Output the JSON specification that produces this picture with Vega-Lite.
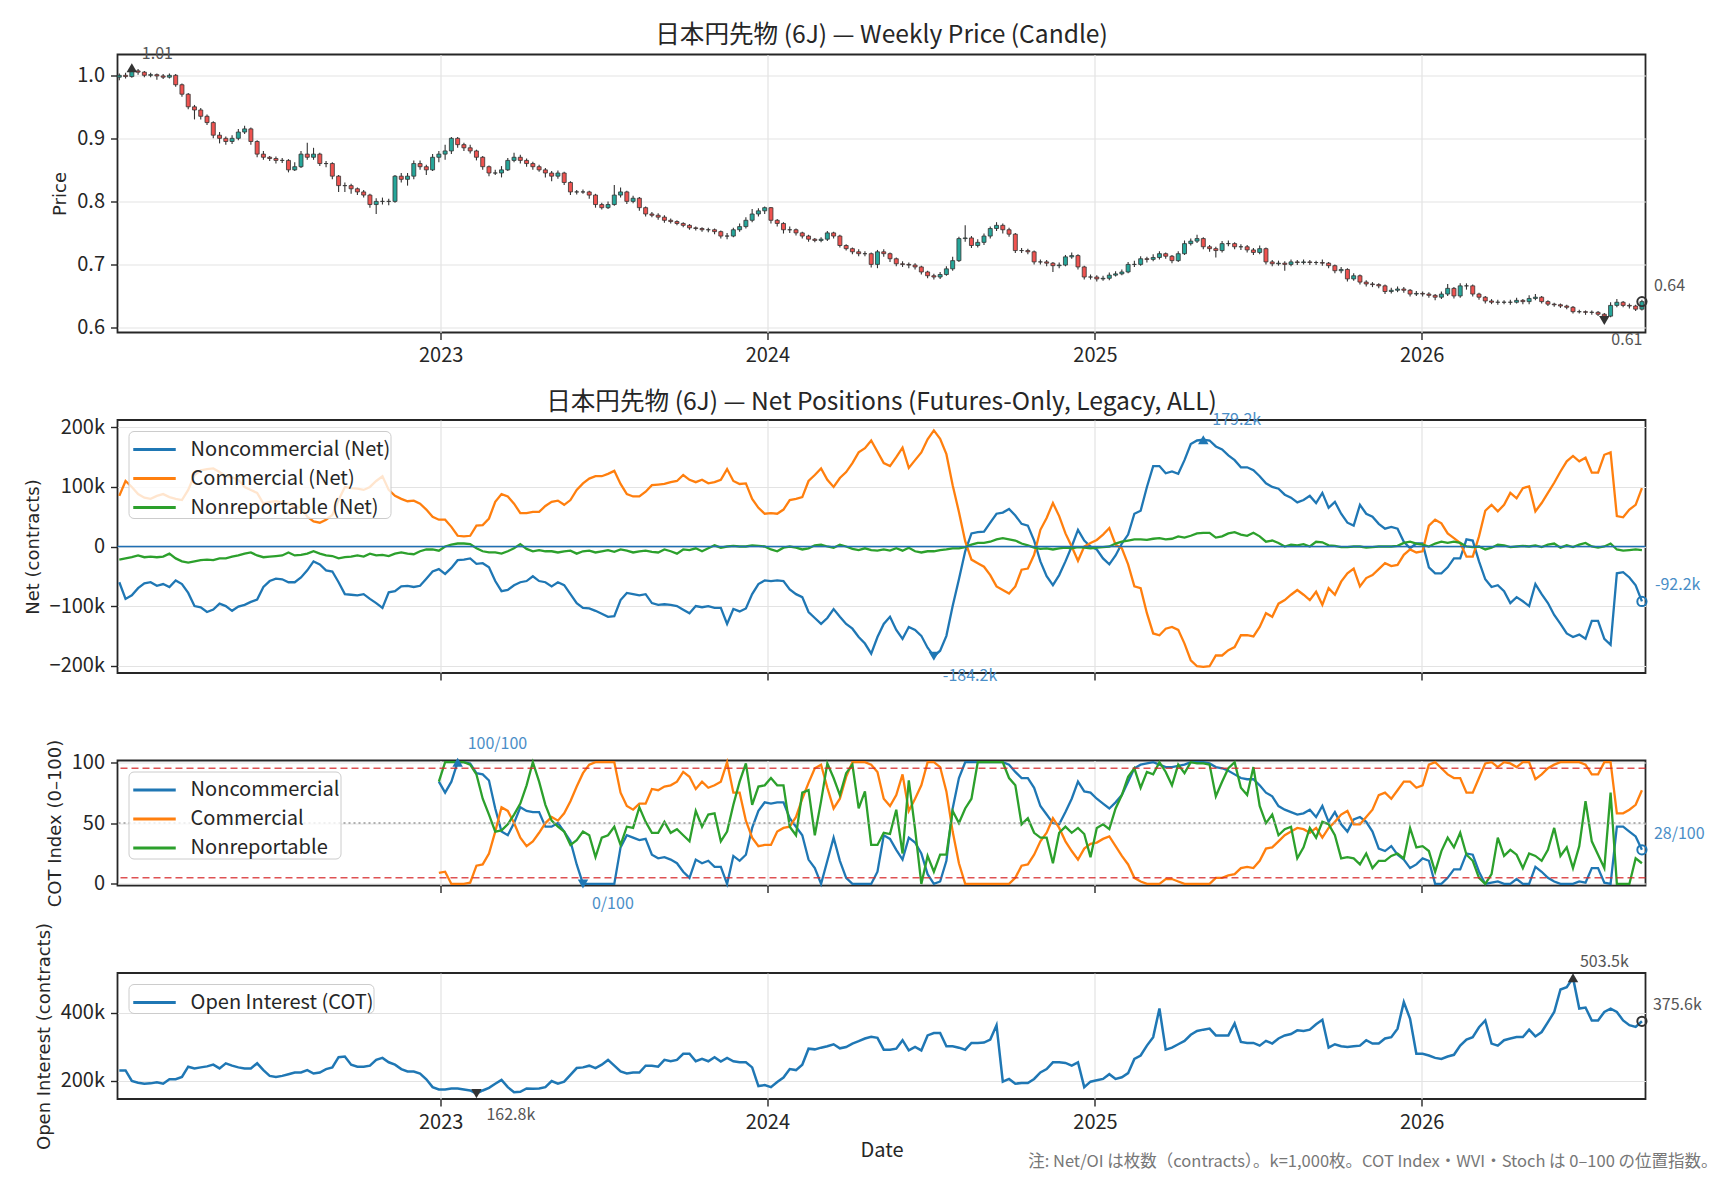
{
  "$schema": "https://vega.github.io/schema/vega-lite/v6.json",
  "background": "white",
  "padding": {"left": 22.5, "top": 21.5, "right": 9, "bottom": 5},
  "autosize": {"type": "pad"},
  "config": {
    "font": "Noto Sans CJK JP",
    "view": {"stroke": "#262626", "strokeWidth": 1.8},
    "axis": {"domain": false, "grid": true, "labelFont": "Noto Sans CJK JP", "labelFontSize": 20, "labelColor": "#262626", "tickColor": "#262626", "tickSize": 7, "tickWidth": 1.4, "labelPadding": 6, "gridColor": "#e3e3e3", "gridWidth": 1.2, "titleFont": "DejaVu Sans", "titleFontSize": 18, "titleFontWeight": "normal", "titleColor": "#262626", "titlePadding": 7, "labelFlush": false},
    "axisX": {"titleFont": "Noto Sans CJK JP", "titleFontSize": 20, "titlePadding": 8.5},
    "legend": {"orient": "top-left", "offset": 11, "labelFont": "Noto Sans CJK JP", "labelFontSize": 20, "labelColor": "#262626", "labelLimit": 400, "symbolType": "M-1.25,0H1.25", "symbolSize": 1156, "symbolStrokeWidth": 3, "symbolOffset": 7.5, "rowPadding": -7.4, "labelOffset": 17.6, "padding": 0, "fillColor": "rgba(255,255,255,0.8)", "strokeColor": "#cccccc", "cornerRadius": 5},
    "title": {"font": "Noto Sans CJK JP", "fontSize": 24.6, "fontWeight": "normal", "color": "#262626", "frame": "group", "offset": 4}
  },
  "title": {"text": "注: Net/OI は枚数（contracts）。k=1,000枚。COT Index・WVI・Stoch は 0–100 の位置指数。", "orient": "bottom", "anchor": "end", "frame": "bounds", "fontSize": 16.5, "color": "#777777", "offset": -7, "dx": 12},
  "bounds": "flush",
  "spacing": 87.5,
  "resolve": {"scale": {"color": "independent"}},
  "datasets": {
    "wk": [
      {"d":"2022-01-07","o":0.997,"h":1.003,"l":0.992,"c":1.0,"nc":-60,"cm":85,"nr":-22,"oi":231},
      {"d":"2022-01-14","o":1.0,"h":1.004,"l":0.995,"c":0.998,"nc":-88,"cm":110,"nr":-20,"oi":231},
      {"d":"2022-01-21","o":0.998,"h":1.012,"l":0.996,"c":1.007,"nc":-82,"cm":100,"nr":-18,"oi":200},
      {"d":"2022-01-28","o":1.007,"h":1.01,"l":1.001,"c":1.005,"nc":-70,"cm":88,"nr":-15,"oi":195},
      {"d":"2022-02-04","o":1.005,"h":1.007,"l":0.997,"c":1.0,"nc":-62,"cm":82,"nr":-18,"oi":192},
      {"d":"2022-02-11","o":1.0,"h":1.004,"l":0.997,"c":1.001,"nc":-60,"cm":80,"nr":-17,"oi":193},
      {"d":"2022-02-18","o":1.001,"h":1.003,"l":0.993,"c":0.999,"nc":-66,"cm":85,"nr":-18,"oi":196},
      {"d":"2022-02-25","o":0.999,"h":1.002,"l":0.994,"c":0.997,"nc":-63,"cm":88,"nr":-17,"oi":192},
      {"d":"2022-03-04","o":0.997,"h":1.003,"l":0.995,"c":1.0,"nc":-68,"cm":83,"nr":-12,"oi":205},
      {"d":"2022-03-11","o":1.0,"h":1.002,"l":0.982,"c":0.985,"nc":-57,"cm":80,"nr":-20,"oi":205},
      {"d":"2022-03-18","o":0.985,"h":0.987,"l":0.966,"c":0.97,"nc":-63,"cm":78,"nr":-25,"oi":212},
      {"d":"2022-03-25","o":0.97,"h":0.972,"l":0.946,"c":0.95,"nc":-78,"cm":95,"nr":-27,"oi":242},
      {"d":"2022-04-01","o":0.95,"h":0.953,"l":0.93,"c":0.945,"nc":-100,"cm":120,"nr":-25,"oi":237},
      {"d":"2022-04-08","o":0.945,"h":0.948,"l":0.93,"c":0.935,"nc":-102,"cm":128,"nr":-23,"oi":240},
      {"d":"2022-04-15","o":0.935,"h":0.938,"l":0.921,"c":0.925,"nc":-110,"cm":130,"nr":-22,"oi":243},
      {"d":"2022-04-22","o":0.925,"h":0.927,"l":0.9,"c":0.905,"nc":-106,"cm":131,"nr":-23,"oi":248},
      {"d":"2022-04-29","o":0.905,"h":0.91,"l":0.892,"c":0.9,"nc":-96,"cm":125,"nr":-20,"oi":237},
      {"d":"2022-05-06","o":0.9,"h":0.903,"l":0.89,"c":0.895,"nc":-100,"cm":118,"nr":-20,"oi":252},
      {"d":"2022-05-13","o":0.895,"h":0.905,"l":0.891,"c":0.9,"nc":-108,"cm":116,"nr":-17,"oi":245},
      {"d":"2022-05-20","o":0.9,"h":0.915,"l":0.897,"c":0.91,"nc":-101,"cm":112,"nr":-15,"oi":240},
      {"d":"2022-05-27","o":0.91,"h":0.92,"l":0.907,"c":0.915,"nc":-98,"cm":100,"nr":-12,"oi":237},
      {"d":"2022-06-03","o":0.915,"h":0.917,"l":0.89,"c":0.895,"nc":-93,"cm":95,"nr":-10,"oi":237},
      {"d":"2022-06-10","o":0.895,"h":0.897,"l":0.87,"c":0.875,"nc":-89,"cm":90,"nr":-15,"oi":252},
      {"d":"2022-06-17","o":0.875,"h":0.88,"l":0.866,"c":0.87,"nc":-68,"cm":72,"nr":-18,"oi":232},
      {"d":"2022-06-24","o":0.87,"h":0.872,"l":0.864,"c":0.868,"nc":-58,"cm":75,"nr":-17,"oi":215},
      {"d":"2022-07-01","o":0.868,"h":0.871,"l":0.86,"c":0.865,"nc":-54,"cm":76,"nr":-16,"oi":212},
      {"d":"2022-07-08","o":0.865,"h":0.869,"l":0.861,"c":0.865,"nc":-55,"cm":74,"nr":-15,"oi":215},
      {"d":"2022-07-15","o":0.865,"h":0.867,"l":0.846,"c":0.85,"nc":-60,"cm":72,"nr":-10,"oi":220},
      {"d":"2022-07-22","o":0.85,"h":0.862,"l":0.848,"c":0.855,"nc":-60,"cm":65,"nr":-15,"oi":225},
      {"d":"2022-07-29","o":0.855,"h":0.88,"l":0.853,"c":0.875,"nc":-52,"cm":66,"nr":-14,"oi":225},
      {"d":"2022-08-05","o":0.875,"h":0.893,"l":0.866,"c":0.87,"nc":-40,"cm":50,"nr":-12,"oi":232},
      {"d":"2022-08-12","o":0.87,"h":0.885,"l":0.866,"c":0.875,"nc":-25,"cm":42,"nr":-8,"oi":222},
      {"d":"2022-08-19","o":0.875,"h":0.877,"l":0.856,"c":0.86,"nc":-30,"cm":40,"nr":-12,"oi":225},
      {"d":"2022-08-26","o":0.86,"h":0.864,"l":0.854,"c":0.86,"nc":-40,"cm":45,"nr":-15,"oi":235},
      {"d":"2022-09-02","o":0.86,"h":0.862,"l":0.835,"c":0.84,"nc":-42,"cm":53,"nr":-16,"oi":240},
      {"d":"2022-09-09","o":0.84,"h":0.842,"l":0.815,"c":0.825,"nc":-60,"cm":78,"nr":-20,"oi":270},
      {"d":"2022-09-16","o":0.825,"h":0.83,"l":0.815,"c":0.825,"nc":-80,"cm":100,"nr":-18,"oi":272},
      {"d":"2022-09-23","o":0.825,"h":0.828,"l":0.812,"c":0.82,"nc":-81,"cm":98,"nr":-17,"oi":248},
      {"d":"2022-09-30","o":0.82,"h":0.822,"l":0.81,"c":0.815,"nc":-82,"cm":97,"nr":-15,"oi":242},
      {"d":"2022-10-07","o":0.815,"h":0.818,"l":0.806,"c":0.81,"nc":-80,"cm":95,"nr":-17,"oi":242},
      {"d":"2022-10-14","o":0.81,"h":0.812,"l":0.79,"c":0.795,"nc":-88,"cm":100,"nr":-12,"oi":245},
      {"d":"2022-10-21","o":0.795,"h":0.805,"l":0.78,"c":0.8,"nc":-95,"cm":110,"nr":-15,"oi":262},
      {"d":"2022-10-28","o":0.8,"h":0.806,"l":0.795,"c":0.8,"nc":-103,"cm":118,"nr":-14,"oi":268},
      {"d":"2022-11-04","o":0.8,"h":0.804,"l":0.794,"c":0.8,"nc":-77,"cm":95,"nr":-16,"oi":255},
      {"d":"2022-11-11","o":0.8,"h":0.842,"l":0.798,"c":0.84,"nc":-75,"cm":85,"nr":-12,"oi":248},
      {"d":"2022-11-18","o":0.84,"h":0.845,"l":0.83,"c":0.835,"nc":-67,"cm":80,"nr":-10,"oi":235},
      {"d":"2022-11-25","o":0.835,"h":0.845,"l":0.825,"c":0.84,"nc":-66,"cm":76,"nr":-12,"oi":228},
      {"d":"2022-12-02","o":0.84,"h":0.865,"l":0.835,"c":0.86,"nc":-68,"cm":77,"nr":-13,"oi":228},
      {"d":"2022-12-09","o":0.86,"h":0.865,"l":0.85,"c":0.855,"nc":-66,"cm":72,"nr":-8,"oi":222},
      {"d":"2022-12-16","o":0.855,"h":0.858,"l":0.842,"c":0.85,"nc":-54,"cm":62,"nr":-5,"oi":205},
      {"d":"2022-12-23","o":0.85,"h":0.875,"l":0.848,"c":0.87,"nc":-42,"cm":50,"nr":-5,"oi":182},
      {"d":"2022-12-30","o":0.87,"h":0.88,"l":0.862,"c":0.875,"nc":-38,"cm":45,"nr":-7,"oi":175,"ni":84,"ci":9,"ri":84},
      {"d":"2023-01-06","o":0.875,"h":0.89,"l":0.866,"c":0.88,"nc":-46,"cm":45,"nr":0,"oi":175,"ni":75,"ci":10,"ri":100},
      {"d":"2023-01-13","o":0.88,"h":0.902,"l":0.875,"c":0.9,"nc":-36,"cm":33,"nr":3,"oi":178,"ni":84,"ci":0,"ri":100},
      {"d":"2023-01-20","o":0.9,"h":0.902,"l":0.885,"c":0.89,"nc":-23,"cm":18,"nr":5,"oi":178,"ni":100,"ci":0,"ri":100},
      {"d":"2023-01-27","o":0.89,"h":0.893,"l":0.88,"c":0.885,"nc":-22,"cm":17,"nr":5,"oi":175,"ni":100,"ci":0,"ri":100},
      {"d":"2023-02-03","o":0.885,"h":0.89,"l":0.876,"c":0.88,"nc":-20,"cm":18,"nr":4,"oi":172,"ni":99,"ci":1,"ri":98},
      {"d":"2023-02-10","o":0.88,"h":0.882,"l":0.865,"c":0.87,"nc":-29,"cm":35,"nr":-3,"oi":162.8,"ni":91,"ci":15,"ri":90},
      {"d":"2023-02-17","o":0.87,"h":0.872,"l":0.85,"c":0.855,"nc":-28,"cm":36,"nr":-8,"oi":172,"ni":90,"ci":16,"ri":70},
      {"d":"2023-02-24","o":0.855,"h":0.857,"l":0.84,"c":0.845,"nc":-35,"cm":47,"nr":-10,"oi":180,"ni":85,"ci":25,"ri":57},
      {"d":"2023-03-03","o":0.845,"h":0.85,"l":0.842,"c":0.845,"nc":-58,"cm":75,"nr":-10,"oi":192,"ni":62,"ci":43,"ri":43},
      {"d":"2023-03-10","o":0.845,"h":0.856,"l":0.838,"c":0.85,"nc":-75,"cm":88,"nr":-12,"oi":203,"ni":43,"ci":63,"ri":44},
      {"d":"2023-03-17","o":0.85,"h":0.869,"l":0.848,"c":0.865,"nc":-73,"cm":84,"nr":-8,"oi":182,"ni":40,"ci":60,"ri":49},
      {"d":"2023-03-24","o":0.865,"h":0.877,"l":0.862,"c":0.87,"nc":-65,"cm":72,"nr":-3,"oi":167,"ni":50,"ci":50,"ri":57},
      {"d":"2023-03-31","o":0.87,"h":0.874,"l":0.86,"c":0.865,"nc":-60,"cm":56,"nr":4,"oi":168,"ni":63,"ci":38,"ri":66},
      {"d":"2023-04-07","o":0.865,"h":0.868,"l":0.855,"c":0.86,"nc":-58,"cm":56,"nr":-4,"oi":178,"ni":60,"ci":31,"ri":81},
      {"d":"2023-04-14","o":0.86,"h":0.863,"l":0.85,"c":0.855,"nc":-50,"cm":58,"nr":-8,"oi":177,"ni":59,"ci":35,"ri":100},
      {"d":"2023-04-21","o":0.855,"h":0.858,"l":0.847,"c":0.85,"nc":-58,"cm":58,"nr":-6,"oi":178,"ni":59,"ci":42,"ri":84},
      {"d":"2023-04-28","o":0.85,"h":0.853,"l":0.838,"c":0.845,"nc":-60,"cm":68,"nr":-8,"oi":182,"ni":47,"ci":50,"ri":65},
      {"d":"2023-05-05","o":0.845,"h":0.848,"l":0.832,"c":0.84,"nc":-67,"cm":75,"nr":-8,"oi":200,"ni":47,"ci":55,"ri":52},
      {"d":"2023-05-12","o":0.84,"h":0.849,"l":0.836,"c":0.845,"nc":-60,"cm":77,"nr":-10,"oi":192,"ni":50,"ci":52,"ri":47},
      {"d":"2023-05-19","o":0.845,"h":0.847,"l":0.826,"c":0.83,"nc":-65,"cm":70,"nr":-8,"oi":198,"ni":43,"ci":58,"ri":43},
      {"d":"2023-05-26","o":0.83,"h":0.832,"l":0.81,"c":0.815,"nc":-80,"cm":78,"nr":-7,"oi":218,"ni":35,"ci":68,"ri":32},
      {"d":"2023-06-02","o":0.815,"h":0.818,"l":0.811,"c":0.815,"nc":-95,"cm":95,"nr":-12,"oi":238,"ni":16,"ci":80,"ri":36},
      {"d":"2023-06-09","o":0.815,"h":0.819,"l":0.812,"c":0.815,"nc":-103,"cm":106,"nr":-8,"oi":240,"ni":0,"ci":91,"ri":43},
      {"d":"2023-06-16","o":0.815,"h":0.817,"l":0.804,"c":0.81,"nc":-104,"cm":114,"nr":-7,"oi":245,"ni":0,"ci":98,"ri":40},
      {"d":"2023-06-23","o":0.81,"h":0.812,"l":0.79,"c":0.795,"nc":-108,"cm":118,"nr":-10,"oi":238,"ni":0,"ci":100,"ri":22},
      {"d":"2023-06-30","o":0.795,"h":0.798,"l":0.787,"c":0.79,"nc":-113,"cm":118,"nr":-8,"oi":248,"ni":0,"ci":100,"ri":38},
      {"d":"2023-07-07","o":0.79,"h":0.8,"l":0.788,"c":0.795,"nc":-118,"cm":122,"nr":-6,"oi":262,"ni":0,"ci":100,"ri":40},
      {"d":"2023-07-14","o":0.795,"h":0.826,"l":0.793,"c":0.81,"nc":-117,"cm":127,"nr":-9,"oi":245,"ni":0,"ci":100,"ri":47},
      {"d":"2023-07-21","o":0.81,"h":0.822,"l":0.806,"c":0.815,"nc":-90,"cm":105,"nr":-5,"oi":228,"ni":30,"ci":75,"ri":32},
      {"d":"2023-07-28","o":0.815,"h":0.817,"l":0.796,"c":0.8,"nc":-78,"cm":88,"nr":-7,"oi":222,"ni":40,"ci":64,"ri":47},
      {"d":"2023-08-04","o":0.8,"h":0.809,"l":0.797,"c":0.805,"nc":-80,"cm":84,"nr":-10,"oi":225,"ni":38,"ci":61,"ri":46},
      {"d":"2023-08-11","o":0.805,"h":0.807,"l":0.785,"c":0.79,"nc":-82,"cm":84,"nr":-8,"oi":225,"ni":36,"ci":66,"ri":63},
      {"d":"2023-08-18","o":0.79,"h":0.792,"l":0.776,"c":0.78,"nc":-80,"cm":92,"nr":-7,"oi":245,"ni":37,"ci":66,"ri":51},
      {"d":"2023-08-25","o":0.78,"h":0.783,"l":0.775,"c":0.778,"nc":-95,"cm":103,"nr":-9,"oi":245,"ni":24,"ci":78,"ri":42},
      {"d":"2023-09-01","o":0.778,"h":0.781,"l":0.771,"c":0.775,"nc":-98,"cm":104,"nr":-10,"oi":242,"ni":21,"ci":77,"ri":42},
      {"d":"2023-09-08","o":0.775,"h":0.778,"l":0.766,"c":0.77,"nc":-97,"cm":105,"nr":-5,"oi":262,"ni":22,"ci":80,"ri":51},
      {"d":"2023-09-15","o":0.77,"h":0.773,"l":0.765,"c":0.768,"nc":-98,"cm":108,"nr":-8,"oi":258,"ni":20,"ci":81,"ri":42},
      {"d":"2023-09-22","o":0.768,"h":0.77,"l":0.762,"c":0.765,"nc":-100,"cm":110,"nr":-12,"oi":262,"ni":17,"ci":84,"ri":45},
      {"d":"2023-09-29","o":0.765,"h":0.767,"l":0.759,"c":0.762,"nc":-106,"cm":120,"nr":-5,"oi":280,"ni":10,"ci":92,"ri":40},
      {"d":"2023-10-06","o":0.762,"h":0.764,"l":0.755,"c":0.758,"nc":-112,"cm":112,"nr":-6,"oi":280,"ni":5,"ci":88,"ri":35},
      {"d":"2023-10-13","o":0.758,"h":0.76,"l":0.754,"c":0.757,"nc":-100,"cm":108,"nr":-3,"oi":258,"ni":20,"ci":78,"ri":60},
      {"d":"2023-10-20","o":0.757,"h":0.759,"l":0.752,"c":0.755,"nc":-102,"cm":112,"nr":-8,"oi":265,"ni":17,"ci":84,"ri":47},
      {"d":"2023-10-27","o":0.755,"h":0.758,"l":0.751,"c":0.755,"nc":-100,"cm":106,"nr":-3,"oi":258,"ni":19,"ci":79,"ri":57},
      {"d":"2023-11-03","o":0.755,"h":0.757,"l":0.748,"c":0.752,"nc":-103,"cm":108,"nr":2,"oi":270,"ni":14,"ci":81,"ri":58},
      {"d":"2023-11-10","o":0.752,"h":0.754,"l":0.741,"c":0.745,"nc":-103,"cm":112,"nr":-2,"oi":257,"ni":14,"ci":84,"ri":35},
      {"d":"2023-11-17","o":0.745,"h":0.75,"l":0.74,"c":0.745,"nc":-130,"cm":130,"nr":0,"oi":268,"ni":0,"ci":100,"ri":43},
      {"d":"2023-11-24","o":0.745,"h":0.758,"l":0.743,"c":0.755,"nc":-105,"cm":110,"nr":1,"oi":258,"ni":23,"ci":75,"ri":65},
      {"d":"2023-12-01","o":0.755,"h":0.765,"l":0.752,"c":0.76,"nc":-109,"cm":105,"nr":0,"oi":255,"ni":19,"ci":75,"ri":84},
      {"d":"2023-12-08","o":0.76,"h":0.775,"l":0.757,"c":0.77,"nc":-104,"cm":106,"nr":0,"oi":255,"ni":24,"ci":52,"ri":99},
      {"d":"2023-12-15","o":0.77,"h":0.788,"l":0.767,"c":0.78,"nc":-80,"cm":80,"nr":2,"oi":240,"ni":46,"ci":38,"ri":65},
      {"d":"2023-12-22","o":0.78,"h":0.789,"l":0.776,"c":0.785,"nc":-63,"cm":65,"nr":1,"oi":185,"ni":60,"ci":31,"ri":80},
      {"d":"2023-12-29","o":0.785,"h":0.792,"l":0.78,"c":0.79,"nc":-57,"cm":55,"nr":0,"oi":188,"ni":67,"ci":32,"ri":81},
      {"d":"2024-01-05","o":0.79,"h":0.791,"l":0.765,"c":0.77,"nc":-58,"cm":56,"nr":-5,"oi":182,"ni":66,"ci":32,"ri":87},
      {"d":"2024-01-12","o":0.77,"h":0.772,"l":0.76,"c":0.765,"nc":-57,"cm":55,"nr":-8,"oi":197,"ni":67,"ci":43,"ri":81},
      {"d":"2024-01-19","o":0.765,"h":0.767,"l":0.749,"c":0.755,"nc":-58,"cm":62,"nr":-2,"oi":210,"ni":67,"ci":46,"ri":81},
      {"d":"2024-01-26","o":0.755,"h":0.76,"l":0.75,"c":0.755,"nc":-72,"cm":78,"nr":0,"oi":235,"ni":54,"ci":47,"ri":47},
      {"d":"2024-02-02","o":0.755,"h":0.757,"l":0.746,"c":0.75,"nc":-80,"cm":80,"nr":-2,"oi":232,"ni":47,"ci":55,"ri":40},
      {"d":"2024-02-09","o":0.75,"h":0.752,"l":0.741,"c":0.745,"nc":-85,"cm":83,"nr":-5,"oi":248,"ni":40,"ci":70,"ri":75},
      {"d":"2024-02-16","o":0.745,"h":0.747,"l":0.736,"c":0.74,"nc":-110,"cm":110,"nr":-3,"oi":295,"ni":20,"ci":83,"ri":77},
      {"d":"2024-02-23","o":0.74,"h":0.742,"l":0.735,"c":0.738,"nc":-120,"cm":120,"nr":2,"oi":293,"ni":13,"ci":95,"ri":40},
      {"d":"2024-03-01","o":0.738,"h":0.743,"l":0.735,"c":0.74,"nc":-130,"cm":131,"nr":3,"oi":298,"ni":0,"ci":98,"ri":68},
      {"d":"2024-03-08","o":0.74,"h":0.753,"l":0.737,"c":0.75,"nc":-120,"cm":112,"nr":0,"oi":302,"ni":19,"ci":79,"ri":99},
      {"d":"2024-03-15","o":0.75,"h":0.752,"l":0.741,"c":0.745,"nc":-105,"cm":100,"nr":-2,"oi":308,"ni":38,"ci":62,"ri":87},
      {"d":"2024-03-22","o":0.745,"h":0.747,"l":0.727,"c":0.73,"nc":-118,"cm":115,"nr":3,"oi":296,"ni":19,"ci":70,"ri":73},
      {"d":"2024-03-29","o":0.73,"h":0.732,"l":0.722,"c":0.725,"nc":-130,"cm":125,"nr":0,"oi":300,"ni":5,"ci":88,"ri":91},
      {"d":"2024-04-05","o":0.725,"h":0.727,"l":0.716,"c":0.72,"nc":-138,"cm":140,"nr":-4,"oi":310,"ni":0,"ci":100,"ri":98},
      {"d":"2024-04-12","o":0.72,"h":0.724,"l":0.713,"c":0.717,"nc":-152,"cm":158,"nr":-6,"oi":317,"ni":0,"ci":100,"ri":62},
      {"d":"2024-04-19","o":0.717,"h":0.721,"l":0.713,"c":0.717,"nc":-163,"cm":165,"nr":-3,"oi":325,"ni":0,"ci":100,"ri":76},
      {"d":"2024-04-26","o":0.717,"h":0.719,"l":0.695,"c":0.7,"nc":-180,"cm":178,"nr":-6,"oi":330,"ni":0,"ci":98,"ri":32},
      {"d":"2024-05-03","o":0.7,"h":0.723,"l":0.694,"c":0.72,"nc":-152,"cm":159,"nr":-7,"oi":327,"ni":10,"ci":92,"ri":32},
      {"d":"2024-05-10","o":0.72,"h":0.724,"l":0.712,"c":0.717,"nc":-130,"cm":140,"nr":-5,"oi":292,"ni":40,"ci":70,"ri":42},
      {"d":"2024-05-17","o":0.717,"h":0.719,"l":0.704,"c":0.709,"nc":-118,"cm":135,"nr":-7,"oi":292,"ni":37,"ci":64,"ri":41},
      {"d":"2024-05-24","o":0.709,"h":0.711,"l":0.697,"c":0.701,"nc":-140,"cm":150,"nr":-3,"oi":295,"ni":28,"ci":73,"ri":61},
      {"d":"2024-05-31","o":0.701,"h":0.705,"l":0.696,"c":0.7,"nc":-155,"cm":166,"nr":-7,"oi":320,"ni":20,"ci":90,"ri":25},
      {"d":"2024-06-07","o":0.7,"h":0.703,"l":0.694,"c":0.699,"nc":-135,"cm":132,"nr":-2,"oi":290,"ni":38,"ci":60,"ri":85},
      {"d":"2024-06-14","o":0.699,"h":0.702,"l":0.692,"c":0.696,"nc":-140,"cm":145,"nr":-8,"oi":300,"ni":34,"ci":70,"ri":45},
      {"d":"2024-06-21","o":0.696,"h":0.698,"l":0.684,"c":0.688,"nc":-150,"cm":158,"nr":-10,"oi":290,"ni":25,"ci":81,"ri":0},
      {"d":"2024-06-28","o":0.688,"h":0.69,"l":0.678,"c":0.682,"nc":-170,"cm":180,"nr":-8,"oi":334,"ni":8,"ci":100,"ri":23},
      {"d":"2024-07-05","o":0.682,"h":0.685,"l":0.676,"c":0.68,"nc":-184.2,"cm":195,"nr":-8,"oi":341,"ni":0,"ci":100,"ri":10},
      {"d":"2024-07-12","o":0.68,"h":0.688,"l":0.677,"c":0.684,"nc":-175,"cm":181,"nr":-6,"oi":341,"ni":2,"ci":96,"ri":24},
      {"d":"2024-07-19","o":0.684,"h":0.697,"l":0.682,"c":0.693,"nc":-150,"cm":155,"nr":-5,"oi":302,"ni":19,"ci":76,"ri":24},
      {"d":"2024-07-26","o":0.693,"h":0.712,"l":0.69,"c":0.706,"nc":-100,"cm":103,"nr":-3,"oi":302,"ni":62,"ci":43,"ri":60},
      {"d":"2024-08-02","o":0.706,"h":0.744,"l":0.704,"c":0.741,"nc":-55,"cm":58,"nr":-3,"oi":298,"ni":87,"ci":17,"ri":50},
      {"d":"2024-08-09","o":0.741,"h":0.762,"l":0.736,"c":0.742,"nc":-8,"cm":9,"nr":-1,"oi":292,"ni":100,"ci":0,"ri":62},
      {"d":"2024-08-16","o":0.742,"h":0.745,"l":0.726,"c":0.73,"nc":22,"cm":-22,"nr":3,"oi":312,"ni":100,"ci":0,"ri":70},
      {"d":"2024-08-23","o":0.73,"h":0.74,"l":0.727,"c":0.735,"nc":24,"cm":-28,"nr":6,"oi":312,"ni":100,"ci":0,"ri":100},
      {"d":"2024-08-30","o":0.735,"h":0.749,"l":0.731,"c":0.745,"nc":25,"cm":-34,"nr":6,"oi":313,"ni":100,"ci":0,"ri":100},
      {"d":"2024-09-06","o":0.745,"h":0.76,"l":0.741,"c":0.757,"nc":40,"cm":-48,"nr":8,"oi":322,"ni":100,"ci":0,"ri":100},
      {"d":"2024-09-13","o":0.757,"h":0.767,"l":0.753,"c":0.762,"nc":55,"cm":-67,"nr":12,"oi":364,"ni":100,"ci":0,"ri":100},
      {"d":"2024-09-20","o":0.762,"h":0.765,"l":0.749,"c":0.755,"nc":57,"cm":-73,"nr":14,"oi":198,"ni":100,"ci":0,"ri":100},
      {"d":"2024-09-27","o":0.755,"h":0.758,"l":0.744,"c":0.748,"nc":63,"cm":-79,"nr":12,"oi":206,"ni":98,"ci":0,"ri":87},
      {"d":"2024-10-04","o":0.748,"h":0.75,"l":0.718,"c":0.722,"nc":52,"cm":-67,"nr":10,"oi":192,"ni":92,"ci":5,"ri":81},
      {"d":"2024-10-11","o":0.722,"h":0.726,"l":0.718,"c":0.722,"nc":38,"cm":-39,"nr":5,"oi":194,"ni":87,"ci":15,"ri":49},
      {"d":"2024-10-18","o":0.722,"h":0.725,"l":0.716,"c":0.72,"nc":35,"cm":-37,"nr":2,"oi":194,"ni":87,"ci":16,"ri":54},
      {"d":"2024-10-25","o":0.72,"h":0.722,"l":0.7,"c":0.704,"nc":10,"cm":-14,"nr":-2,"oi":206,"ni":79,"ci":24,"ri":42},
      {"d":"2024-11-01","o":0.704,"h":0.708,"l":0.7,"c":0.704,"nc":-25,"cm":28,"nr":-4,"oi":225,"ni":64,"ci":35,"ri":38},
      {"d":"2024-11-08","o":0.704,"h":0.707,"l":0.697,"c":0.702,"nc":-50,"cm":48,"nr":-3,"oi":235,"ni":57,"ci":42,"ri":38},
      {"d":"2024-11-15","o":0.702,"h":0.704,"l":0.688,"c":0.698,"nc":-65,"cm":73,"nr":-5,"oi":255,"ni":50,"ci":54,"ri":17},
      {"d":"2024-11-22","o":0.698,"h":0.703,"l":0.694,"c":0.699,"nc":-48,"cm":51,"nr":-3,"oi":255,"ni":49,"ci":46,"ri":42},
      {"d":"2024-11-29","o":0.699,"h":0.715,"l":0.697,"c":0.712,"nc":-25,"cm":22,"nr":-2,"oi":253,"ni":59,"ci":35,"ri":47},
      {"d":"2024-12-06","o":0.712,"h":0.719,"l":0.709,"c":0.714,"nc":0,"cm":0,"nr":-3,"oi":245,"ni":70,"ci":27,"ri":42},
      {"d":"2024-12-13","o":0.714,"h":0.716,"l":0.692,"c":0.696,"nc":28,"cm":-24,"nr":-1,"oi":255,"ni":84,"ci":20,"ri":46},
      {"d":"2024-12-20","o":0.696,"h":0.698,"l":0.676,"c":0.68,"nc":10,"cm":0,"nr":-2,"oi":182,"ni":76,"ci":29,"ri":41},
      {"d":"2024-12-27","o":0.68,"h":0.684,"l":0.676,"c":0.68,"nc":0,"cm":6,"nr":-3,"oi":198,"ni":75,"ci":33,"ri":22},
      {"d":"2025-01-03","o":0.68,"h":0.683,"l":0.673,"c":0.677,"nc":-5,"cm":11,"nr":-2,"oi":202,"ni":70,"ci":34,"ri":46},
      {"d":"2025-01-10","o":0.677,"h":0.682,"l":0.674,"c":0.678,"nc":-20,"cm":20,"nr":-1,"oi":206,"ni":66,"ci":37,"ri":49},
      {"d":"2025-01-17","o":0.678,"h":0.687,"l":0.675,"c":0.683,"nc":-30,"cm":31,"nr":0,"oi":220,"ni":62,"ci":39,"ri":45},
      {"d":"2025-01-24","o":0.683,"h":0.689,"l":0.681,"c":0.685,"nc":-15,"cm":3,"nr":5,"oi":206,"ni":67,"ci":31,"ri":62},
      {"d":"2025-01-31","o":0.685,"h":0.692,"l":0.683,"c":0.688,"nc":5,"cm":-3,"nr":8,"oi":211,"ni":73,"ci":23,"ri":73},
      {"d":"2025-02-07","o":0.688,"h":0.704,"l":0.686,"c":0.7,"nc":20,"cm":-30,"nr":10,"oi":223,"ni":84,"ci":16,"ri":88},
      {"d":"2025-02-14","o":0.7,"h":0.706,"l":0.696,"c":0.7,"nc":55,"cm":-67,"nr":12,"oi":265,"ni":95,"ci":5,"ri":95},
      {"d":"2025-02-21","o":0.7,"h":0.713,"l":0.698,"c":0.709,"nc":60,"cm":-70,"nr":12,"oi":275,"ni":98,"ci":2,"ri":79},
      {"d":"2025-02-28","o":0.709,"h":0.712,"l":0.703,"c":0.708,"nc":100,"cm":-112,"nr":11,"oi":304,"ni":99,"ci":0,"ri":92},
      {"d":"2025-03-07","o":0.708,"h":0.716,"l":0.705,"c":0.711,"nc":135,"cm":-146,"nr":13,"oi":329,"ni":100,"ci":0,"ri":90},
      {"d":"2025-03-14","o":0.711,"h":0.721,"l":0.708,"c":0.717,"nc":135,"cm":-149,"nr":14,"oi":413,"ni":98,"ci":0,"ri":100},
      {"d":"2025-03-21","o":0.717,"h":0.719,"l":0.709,"c":0.713,"nc":123,"cm":-138,"nr":12,"oi":292,"ni":96,"ci":4,"ri":92},
      {"d":"2025-03-28","o":0.713,"h":0.715,"l":0.702,"c":0.706,"nc":126,"cm":-135,"nr":13,"oi":298,"ni":96,"ci":4,"ri":81},
      {"d":"2025-04-04","o":0.706,"h":0.721,"l":0.704,"c":0.717,"nc":122,"cm":-140,"nr":17,"oi":308,"ni":97,"ci":2,"ri":98},
      {"d":"2025-04-11","o":0.717,"h":0.738,"l":0.715,"c":0.733,"nc":145,"cm":-163,"nr":15,"oi":318,"ni":98,"ci":0,"ri":91},
      {"d":"2025-04-18","o":0.733,"h":0.741,"l":0.73,"c":0.737,"nc":172,"cm":-191,"nr":18,"oi":336,"ni":100,"ci":0,"ri":100},
      {"d":"2025-04-25","o":0.737,"h":0.747,"l":0.734,"c":0.741,"nc":178,"cm":-201,"nr":22,"oi":347,"ni":100,"ci":0,"ri":99},
      {"d":"2025-05-02","o":0.741,"h":0.743,"l":0.724,"c":0.728,"nc":179.2,"cm":-202,"nr":23,"oi":351,"ni":100,"ci":0,"ri":99},
      {"d":"2025-05-09","o":0.728,"h":0.731,"l":0.72,"c":0.725,"nc":178,"cm":-201,"nr":23,"oi":354,"ni":99,"ci":0,"ri":98},
      {"d":"2025-05-16","o":0.725,"h":0.728,"l":0.711,"c":0.722,"nc":168,"cm":-183,"nr":15,"oi":334,"ni":96,"ci":5,"ri":72},
      {"d":"2025-05-23","o":0.722,"h":0.737,"l":0.719,"c":0.733,"nc":163,"cm":-183,"nr":17,"oi":334,"ni":95,"ci":5,"ri":84},
      {"d":"2025-05-30","o":0.733,"h":0.738,"l":0.729,"c":0.733,"nc":153,"cm":-174,"nr":22,"oi":334,"ni":93,"ci":7,"ri":95},
      {"d":"2025-06-06","o":0.733,"h":0.735,"l":0.724,"c":0.728,"nc":145,"cm":-169,"nr":24,"oi":369,"ni":90,"ci":8,"ri":100},
      {"d":"2025-06-13","o":0.728,"h":0.732,"l":0.723,"c":0.728,"nc":133,"cm":-149,"nr":20,"oi":315,"ni":87,"ci":13,"ri":79},
      {"d":"2025-06-20","o":0.728,"h":0.731,"l":0.719,"c":0.723,"nc":133,"cm":-149,"nr":18,"oi":312,"ni":86,"ci":14,"ri":73},
      {"d":"2025-06-27","o":0.723,"h":0.726,"l":0.715,"c":0.719,"nc":128,"cm":-151,"nr":23,"oi":312,"ni":86,"ci":13,"ri":96},
      {"d":"2025-07-04","o":0.719,"h":0.73,"l":0.716,"c":0.725,"nc":118,"cm":-135,"nr":17,"oi":304,"ni":81,"ci":19,"ri":64},
      {"d":"2025-07-11","o":0.725,"h":0.727,"l":0.7,"c":0.704,"nc":106,"cm":-112,"nr":8,"oi":318,"ni":75,"ci":29,"ri":50},
      {"d":"2025-07-18","o":0.704,"h":0.707,"l":0.697,"c":0.701,"nc":100,"cm":-118,"nr":10,"oi":310,"ni":72,"ci":30,"ri":57},
      {"d":"2025-07-25","o":0.701,"h":0.706,"l":0.698,"c":0.702,"nc":97,"cm":-96,"nr":6,"oi":325,"ni":64,"ci":35,"ri":40},
      {"d":"2025-08-01","o":0.702,"h":0.705,"l":0.69,"c":0.7,"nc":87,"cm":-90,"nr":0,"oi":334,"ni":61,"ci":40,"ri":45},
      {"d":"2025-08-08","o":0.7,"h":0.708,"l":0.697,"c":0.704,"nc":82,"cm":-81,"nr":3,"oi":338,"ni":59,"ci":43,"ri":47},
      {"d":"2025-08-15","o":0.704,"h":0.707,"l":0.699,"c":0.703,"nc":74,"cm":-73,"nr":2,"oi":349,"ni":57,"ci":46,"ri":21},
      {"d":"2025-08-22","o":0.703,"h":0.708,"l":0.7,"c":0.704,"nc":78,"cm":-81,"nr":4,"oi":347,"ni":58,"ci":45,"ri":30},
      {"d":"2025-08-29","o":0.704,"h":0.707,"l":0.699,"c":0.703,"nc":85,"cm":-90,"nr":0,"oi":351,"ni":61,"ci":42,"ri":46},
      {"d":"2025-09-05","o":0.703,"h":0.706,"l":0.699,"c":0.703,"nc":73,"cm":-76,"nr":8,"oi":367,"ni":55,"ci":46,"ri":38},
      {"d":"2025-09-12","o":0.703,"h":0.708,"l":0.698,"c":0.702,"nc":90,"cm":-98,"nr":7,"oi":380,"ni":64,"ci":38,"ri":51},
      {"d":"2025-09-19","o":0.702,"h":0.704,"l":0.694,"c":0.698,"nc":65,"cm":-70,"nr":2,"oi":298,"ni":51,"ci":46,"ri":49},
      {"d":"2025-09-26","o":0.698,"h":0.7,"l":0.686,"c":0.69,"nc":75,"cm":-81,"nr":1,"oi":308,"ni":59,"ci":51,"ri":40},
      {"d":"2025-10-03","o":0.69,"h":0.696,"l":0.686,"c":0.692,"nc":55,"cm":-59,"nr":-1,"oi":302,"ni":49,"ci":57,"ri":21},
      {"d":"2025-10-10","o":0.692,"h":0.694,"l":0.673,"c":0.677,"nc":40,"cm":-45,"nr":-1,"oi":300,"ni":43,"ci":60,"ri":22},
      {"d":"2025-10-17","o":0.677,"h":0.686,"l":0.674,"c":0.682,"nc":35,"cm":-37,"nr":0,"oi":302,"ni":53,"ci":49,"ri":21},
      {"d":"2025-10-24","o":0.682,"h":0.684,"l":0.668,"c":0.672,"nc":70,"cm":-67,"nr":0,"oi":304,"ni":55,"ci":49,"ri":16},
      {"d":"2025-10-31","o":0.672,"h":0.675,"l":0.665,"c":0.669,"nc":55,"cm":-53,"nr":-2,"oi":320,"ni":51,"ci":55,"ri":25},
      {"d":"2025-11-07","o":0.669,"h":0.672,"l":0.664,"c":0.668,"nc":50,"cm":-48,"nr":-1,"oi":310,"ni":43,"ci":61,"ri":13},
      {"d":"2025-11-14","o":0.668,"h":0.67,"l":0.662,"c":0.666,"nc":38,"cm":-38,"nr":0,"oi":310,"ni":29,"ci":73,"ri":19},
      {"d":"2025-11-21","o":0.666,"h":0.668,"l":0.653,"c":0.657,"nc":30,"cm":-28,"nr":0,"oi":325,"ni":27,"ci":75,"ri":19},
      {"d":"2025-11-28","o":0.657,"h":0.663,"l":0.654,"c":0.659,"nc":33,"cm":-33,"nr":0,"oi":329,"ni":31,"ci":70,"ri":23},
      {"d":"2025-12-05","o":0.659,"h":0.665,"l":0.656,"c":0.661,"nc":30,"cm":-31,"nr":1,"oi":354,"ni":24,"ci":77,"ri":25},
      {"d":"2025-12-12","o":0.661,"h":0.664,"l":0.655,"c":0.659,"nc":8,"cm":-14,"nr":6,"oi":432,"ni":20,"ci":84,"ri":21},
      {"d":"2025-12-19","o":0.659,"h":0.661,"l":0.649,"c":0.653,"nc":-3,"cm":-5,"nr":8,"oi":383,"ni":13,"ci":84,"ri":46},
      {"d":"2025-12-26","o":0.653,"h":0.658,"l":0.65,"c":0.654,"nc":5,"cm":-10,"nr":5,"oi":280,"ni":16,"ci":79,"ri":30},
      {"d":"2026-01-02","o":0.654,"h":0.657,"l":0.649,"c":0.653,"nc":5,"cm":-8,"nr":3,"oi":280,"ni":21,"ci":81,"ri":31},
      {"d":"2026-01-09","o":0.653,"h":0.656,"l":0.647,"c":0.651,"nc":-35,"cm":35,"nr":0,"oi":275,"ni":19,"ci":98,"ri":27},
      {"d":"2026-01-16","o":0.651,"h":0.653,"l":0.643,"c":0.648,"nc":-45,"cm":45,"nr":5,"oi":268,"ni":0,"ci":100,"ri":10},
      {"d":"2026-01-23","o":0.648,"h":0.657,"l":0.645,"c":0.653,"nc":-45,"cm":39,"nr":8,"oi":265,"ni":0,"ci":95,"ri":27},
      {"d":"2026-01-30","o":0.653,"h":0.669,"l":0.65,"c":0.662,"nc":-35,"cm":22,"nr":6,"oi":272,"ni":5,"ci":90,"ri":38},
      {"d":"2026-02-06","o":0.662,"h":0.664,"l":0.646,"c":0.65,"nc":-20,"cm":14,"nr":8,"oi":277,"ni":12,"ci":87,"ri":30},
      {"d":"2026-02-13","o":0.65,"h":0.67,"l":0.647,"c":0.666,"nc":-20,"cm":6,"nr":6,"oi":304,"ni":12,"ci":87,"ri":42},
      {"d":"2026-02-20","o":0.666,"h":0.67,"l":0.66,"c":0.666,"nc":12,"cm":-17,"nr":0,"oi":322,"ni":25,"ci":75,"ri":24},
      {"d":"2026-02-27","o":0.666,"h":0.668,"l":0.649,"c":0.653,"nc":10,"cm":-17,"nr":-1,"oi":329,"ni":24,"ci":75,"ri":19},
      {"d":"2026-03-06","o":0.653,"h":0.655,"l":0.644,"c":0.648,"nc":-25,"cm":17,"nr":0,"oi":358,"ni":10,"ci":87,"ri":5},
      {"d":"2026-03-13","o":0.648,"h":0.65,"l":0.638,"c":0.642,"nc":-55,"cm":60,"nr":-5,"oi":378,"ni":0,"ci":99,"ri":0},
      {"d":"2026-03-20","o":0.642,"h":0.645,"l":0.637,"c":0.64,"nc":-68,"cm":70,"nr":-2,"oi":310,"ni":1,"ci":100,"ri":8},
      {"d":"2026-03-27","o":0.64,"h":0.644,"l":0.636,"c":0.64,"nc":-65,"cm":59,"nr":3,"oi":304,"ni":2,"ci":96,"ri":38},
      {"d":"2026-04-03","o":0.64,"h":0.643,"l":0.637,"c":0.64,"nc":-75,"cm":70,"nr":2,"oi":320,"ni":0,"ci":100,"ri":23},
      {"d":"2026-04-10","o":0.64,"h":0.644,"l":0.636,"c":0.64,"nc":-95,"cm":90,"nr":-1,"oi":325,"ni":0,"ci":99,"ri":28},
      {"d":"2026-04-17","o":0.64,"h":0.647,"l":0.638,"c":0.643,"nc":-85,"cm":81,"nr":0,"oi":329,"ni":4,"ci":96,"ri":24},
      {"d":"2026-04-24","o":0.643,"h":0.645,"l":0.637,"c":0.641,"nc":-92,"cm":98,"nr":1,"oi":329,"ni":0,"ci":100,"ri":13},
      {"d":"2026-05-01","o":0.641,"h":0.651,"l":0.637,"c":0.646,"nc":-100,"cm":101,"nr":0,"oi":351,"ni":0,"ci":100,"ri":25},
      {"d":"2026-05-08","o":0.646,"h":0.653,"l":0.643,"c":0.648,"nc":-63,"cm":59,"nr":2,"oi":331,"ni":14,"ci":86,"ri":23},
      {"d":"2026-05-15","o":0.648,"h":0.65,"l":0.638,"c":0.641,"nc":-80,"cm":73,"nr":-1,"oi":344,"ni":10,"ci":90,"ri":19},
      {"d":"2026-05-22","o":0.641,"h":0.643,"l":0.634,"c":0.637,"nc":-95,"cm":90,"nr":3,"oi":373,"ni":5,"ci":95,"ri":28},
      {"d":"2026-05-29","o":0.637,"h":0.639,"l":0.633,"c":0.636,"nc":-115,"cm":107,"nr":5,"oi":403,"ni":2,"ci":98,"ri":46},
      {"d":"2026-06-05","o":0.636,"h":0.638,"l":0.631,"c":0.634,"nc":-130,"cm":126,"nr":-2,"oi":469,"ni":0,"ci":100,"ri":23},
      {"d":"2026-06-12","o":0.634,"h":0.636,"l":0.629,"c":0.632,"nc":-146,"cm":143,"nr":2,"oi":476,"ni":0,"ci":100,"ri":30},
      {"d":"2026-06-19","o":0.632,"h":0.634,"l":0.622,"c":0.625,"nc":-152,"cm":152,"nr":-1,"oi":503.5,"ni":0,"ci":100,"ri":13},
      {"d":"2026-06-26","o":0.625,"h":0.628,"l":0.622,"c":0.625,"nc":-148,"cm":143,"nr":3,"oi":413,"ni":2,"ci":100,"ri":31},
      {"d":"2026-07-03","o":0.625,"h":0.627,"l":0.62,"c":0.624,"nc":-155,"cm":149,"nr":6,"oi":416,"ni":1,"ci":98,"ri":68},
      {"d":"2026-07-10","o":0.624,"h":0.627,"l":0.62,"c":0.624,"nc":-125,"cm":124,"nr":0,"oi":378,"ni":13,"ci":90,"ri":35},
      {"d":"2026-07-17","o":0.624,"h":0.626,"l":0.618,"c":0.621,"nc":-125,"cm":124,"nr":-2,"oi":378,"ni":13,"ci":90,"ri":24},
      {"d":"2026-07-24","o":0.621,"h":0.623,"l":0.611,"c":0.618,"nc":-155,"cm":154,"nr":0,"oi":403,"ni":1,"ci":100,"ri":13},
      {"d":"2026-07-31","o":0.618,"h":0.64,"l":0.616,"c":0.635,"nc":-165,"cm":158,"nr":5,"oi":413,"ni":0,"ci":100,"ri":75},
      {"d":"2026-08-07","o":0.635,"h":0.645,"l":0.632,"c":0.64,"nc":-45,"cm":51,"nr":-5,"oi":403,"ni":47,"ci":58,"ri":0},
      {"d":"2026-08-14","o":0.64,"h":0.642,"l":0.632,"c":0.635,"nc":-43,"cm":49,"nr":-7,"oi":378,"ni":47,"ci":58,"ri":0},
      {"d":"2026-08-21","o":0.635,"h":0.638,"l":0.63,"c":0.634,"nc":-52,"cm":62,"nr":-6,"oi":364,"ni":43,"ci":61,"ri":0},
      {"d":"2026-08-28","o":0.634,"h":0.636,"l":0.626,"c":0.629,"nc":-65,"cm":70,"nr":-5,"oi":359,"ni":39,"ci":65,"ri":21},
      {"d":"2026-09-04","o":0.629,"h":0.644,"l":0.627,"c":0.641,"nc":-92.2,"cm":98,"nr":-6,"oi":375.6,"ni":28,"ci":77,"ri":17}
    ]
  },
  "vconcat": [
    {
      "width": 1528,
      "height": 278,
      "title": {"text": "日本円先物 (6J) — Weekly Price (Candle)", "offset": -3},
      "layer": [
        {
          "data": {"name": "wk"},
          "mark": {"type": "rule", "color": "#333333", "strokeWidth": 1.1},
          "encoding": {
            "x": {"field": "d", "type": "temporal", "scale": {"domain": [{"year": 2022, "month": 1, "date": 5}, {"year": 2026, "month": 9, "date": 8}], "nice": false, "padding": 0}, "axis": {"title": null, "format": "%Y", "tickCount": {"interval": "year", "step": 1}}},
            "y": {"field": "l", "type": "quantitative", "title": "Price", "scale": {"domain": [0.592, 1.033], "nice": false, "zero": false}, "axis": {"values": [0.6, 0.7, 0.8, 0.9, 1.0], "format": ".1f"}},
            "y2": {"field": "h"}
          }
        },
        {
          "data": {"name": "wk"},
          "mark": {"type": "bar", "size": 4, "stroke": "#333333", "strokeWidth": 0.8},
          "encoding": {
            "x": {"field": "d", "type": "temporal"},
            "y": {"field": "o", "type": "quantitative", "title": "Price"},
            "y2": {"field": "c"},
            "color": {"condition": {"test": "datum.c >= datum.o", "value": "#26a69a"}, "value": "#ef5350"}
          }
        },
        {
          "data": {"values": [
            {"d": "2022-01-21", "v": 1.012, "t": "1.01", "k": "max"},
            {"d": "2026-07-24", "v": 0.611, "t": "0.61", "k": "min"},
            {"d": "2026-09-04", "v": 0.641, "t": "0.64", "k": "last"}
          ]},
          "encoding": {
            "x": {"field": "d", "type": "temporal"},
            "y": {"field": "v", "type": "quantitative", "title": "Price"}
          },
          "layer": [
            {"transform": [{"filter": "datum.k == 'max'"}], "mark": {"type": "point", "shape": "triangle-up", "filled": true, "size": 110, "color": "#333333", "opacity": 1}},
            {"transform": [{"filter": "datum.k == 'min'"}], "mark": {"type": "point", "shape": "triangle-down", "filled": true, "size": 110, "color": "#333333", "opacity": 1}},
            {"transform": [{"filter": "datum.k == 'last'"}], "mark": {"type": "point", "shape": "circle", "filled": false, "size": 85, "strokeWidth": 2, "color": "#333333", "opacity": 1}},
            {"transform": [{"filter": "datum.k == 'max'"}], "mark": {"type": "text", "align": "left", "baseline": "middle", "dx": 10, "dy": -14, "fontSize": 16, "color": "#555555"}, "encoding": {"text": {"field": "t"}}},
            {"transform": [{"filter": "datum.k == 'last'"}], "mark": {"type": "text", "align": "left", "baseline": "middle", "dx": 12, "dy": -16, "fontSize": 16, "color": "#555555"}, "encoding": {"text": {"field": "t"}}},
            {"transform": [{"filter": "datum.k == 'min'"}], "mark": {"type": "text", "align": "left", "baseline": "middle", "dx": 7, "dy": 19, "fontSize": 16, "color": "#555555"}, "encoding": {"text": {"field": "t"}}}
          ]
        }
      ]
    },
    {
      "width": 1528,
      "height": 253,
      "title": {"text": "日本円先物 (6J) — Net Positions (Futures-Only, Legacy, ALL)", "offset": -3.5},
      "layer": [
        {
          "data": {"name": "wk"},
          "transform": [{"fold": ["nc", "cm", "nr"], "as": ["s", "v"]}],
          "mark": {"type": "line", "strokeWidth": 2.3},
          "encoding": {
            "x": {"field": "d", "type": "temporal", "scale": {"domain": [{"year": 2022, "month": 1, "date": 5}, {"year": 2026, "month": 9, "date": 8}], "nice": false}, "axis": {"title": null, "labels": false, "tickCount": {"interval": "year", "step": 1}}},
            "y": {"field": "v", "type": "quantitative", "title": "Net (contracts)", "scale": {"domain": [-212.4, 212.4], "nice": false, "zero": false}, "axis": {"values": [-200, -100, 0, 100, 200], "labelExpr": "datum.value == 0 ? '0' : (datum.value < 0 ? '−' + abs(datum.value) : '' + datum.value) + 'k'"}},
            "color": {"field": "s", "type": "nominal", "scale": {"domain": ["nc", "cm", "nr"], "range": ["#1f77b4", "#ff7f0e", "#2ca02c"]}, "legend": {"title": null, "labelExpr": "datum.label == 'nc' ? 'Noncommercial (Net)' : datum.label == 'cm' ? 'Commercial (Net)' : 'Nonreportable (Net)'"}}
          }
        },
        {
          "data": {"values": [{}]},
          "mark": {"type": "rule", "color": "#1f6fb4", "strokeWidth": 1.6},
          "encoding": {"y": {"datum": 0, "type": "quantitative"}}
        },
        {
          "data": {"values": [
            {"d": "2025-05-02", "v": 179.2, "t": "179.2k", "k": "max"},
            {"d": "2024-07-05", "v": -184.2, "t": "-184.2k", "k": "min"},
            {"d": "2026-09-04", "v": -92.2, "t": "-92.2k", "k": "last"}
          ]},
          "encoding": {
            "x": {"field": "d", "type": "temporal"},
            "y": {"field": "v", "type": "quantitative", "title": "Net (contracts)"}
          },
          "layer": [
            {"transform": [{"filter": "datum.k == 'max'"}], "mark": {"type": "point", "shape": "triangle-up", "filled": true, "size": 110, "color": "#1f77b4", "opacity": 1}},
            {"transform": [{"filter": "datum.k == 'min'"}], "mark": {"type": "point", "shape": "triangle-down", "filled": true, "size": 110, "color": "#1f77b4", "opacity": 1}},
            {"transform": [{"filter": "datum.k == 'last'"}], "mark": {"type": "point", "shape": "circle", "filled": false, "size": 85, "strokeWidth": 2, "color": "#1f77b4", "opacity": 1}},
            {"transform": [{"filter": "datum.k == 'max'"}], "mark": {"type": "text", "align": "left", "baseline": "middle", "dx": 9, "dy": -20, "fontSize": 16, "color": "#4a8ec7"}, "encoding": {"text": {"field": "t"}}},
            {"transform": [{"filter": "datum.k == 'last'"}], "mark": {"type": "text", "align": "left", "baseline": "middle", "dx": 13, "dy": -16, "fontSize": 16, "color": "#4a8ec7"}, "encoding": {"text": {"field": "t"}}},
            {"transform": [{"filter": "datum.k == 'min'"}], "mark": {"type": "text", "align": "left", "baseline": "middle", "dx": 9, "dy": 20, "fontSize": 16, "color": "#4a8ec7"}, "encoding": {"text": {"field": "t"}}}
          ]
        }
      ]
    },
    {
      "width": 1528,
      "height": 125,
      "layer": [
        {
          "data": {"name": "wk"},
          "transform": [{"filter": "isValid(datum.ni)"}, {"fold": ["ni", "ci", "ri"], "as": ["s", "v"]}],
          "mark": {"type": "line", "strokeWidth": 2.3},
          "encoding": {
            "x": {"field": "d", "type": "temporal", "scale": {"domain": [{"year": 2022, "month": 1, "date": 5}, {"year": 2026, "month": 9, "date": 8}], "nice": false}, "axis": {"title": null, "labels": false, "tickCount": {"interval": "year", "step": 1}}},
            "y": {"field": "v", "type": "quantitative", "title": "COT Index (0–100)", "scale": {"domain": [-1.3, 101.4], "nice": false, "zero": false}, "axis": {"values": [0, 50, 100]}},
            "color": {"field": "s", "type": "nominal", "scale": {"domain": ["ni", "ci", "ri"], "range": ["#1f77b4", "#ff7f0e", "#2ca02c"]}, "legend": {"title": null, "labelExpr": "datum.label == 'ni' ? 'Noncommercial' : datum.label == 'ci' ? 'Commercial' : 'Nonreportable'"}}
          }
        },
        {
          "data": {"values": [{}]},
          "mark": {"type": "rule", "color": "#d62728", "opacity": 0.8, "strokeDash": [7, 4], "strokeWidth": 1.5},
          "encoding": {"y": {"datum": 95, "type": "quantitative"}}
        },
        {
          "data": {"values": [{}]},
          "mark": {"type": "rule", "color": "#d62728", "opacity": 0.8, "strokeDash": [7, 4], "strokeWidth": 1.5},
          "encoding": {"y": {"datum": 5, "type": "quantitative"}}
        },
        {
          "data": {"values": [{}]},
          "mark": {"type": "rule", "color": "#999999", "strokeDash": [2, 3], "strokeWidth": 1.5},
          "encoding": {"y": {"datum": 50, "type": "quantitative"}}
        },
        {
          "data": {"values": [
            {"d": "2023-01-20", "v": 100, "t": "100/100", "k": "max"},
            {"d": "2023-06-09", "v": 0, "t": "0/100", "k": "min"},
            {"d": "2026-09-04", "v": 28, "t": "28/100", "k": "last"}
          ]},
          "encoding": {
            "x": {"field": "d", "type": "temporal"},
            "y": {"field": "v", "type": "quantitative", "title": "COT Index (0–100)"}
          },
          "layer": [
            {"transform": [{"filter": "datum.k == 'max'"}], "mark": {"type": "point", "shape": "triangle-up", "filled": true, "size": 110, "color": "#1f77b4", "opacity": 1}},
            {"transform": [{"filter": "datum.k == 'min'"}], "mark": {"type": "point", "shape": "triangle-down", "filled": true, "size": 110, "color": "#1f77b4", "opacity": 1}},
            {"transform": [{"filter": "datum.k == 'last'"}], "mark": {"type": "point", "shape": "circle", "filled": false, "size": 85, "strokeWidth": 2, "color": "#1f77b4", "opacity": 1}},
            {"transform": [{"filter": "datum.k == 'max'"}], "mark": {"type": "text", "align": "left", "baseline": "middle", "dx": 10, "dy": -18, "fontSize": 16, "color": "#4a8ec7"}, "encoding": {"text": {"field": "t"}}},
            {"transform": [{"filter": "datum.k == 'last'"}], "mark": {"type": "text", "align": "left", "baseline": "middle", "dx": 12, "dy": -16, "fontSize": 16, "color": "#4a8ec7"}, "encoding": {"text": {"field": "t"}}},
            {"transform": [{"filter": "datum.k == 'min'"}], "mark": {"type": "text", "align": "left", "baseline": "middle", "dx": 9, "dy": 20, "fontSize": 16, "color": "#4a8ec7"}, "encoding": {"text": {"field": "t"}}}
          ]
        }
      ]
    },
    {
      "width": 1528,
      "height": 126,
      "layer": [
        {
          "data": {"name": "wk"},
          "mark": {"type": "line", "strokeWidth": 2.5},
          "encoding": {
            "x": {"field": "d", "type": "temporal", "scale": {"domain": [{"year": 2022, "month": 1, "date": 5}, {"year": 2026, "month": 9, "date": 8}], "nice": false}, "axis": {"title": "Date", "format": "%Y", "tickCount": {"interval": "year", "step": 1}}},
            "y": {"field": "oi", "type": "quantitative", "title": "Open Interest (contracts)", "scale": {"domain": [147, 517.6], "nice": false, "zero": false}, "axis": {"values": [200, 400], "labelExpr": "datum.value + 'k'"}},
            "color": {"datum": "Open Interest (COT)", "type": "nominal", "scale": {"range": ["#1f77b4"]}, "legend": {"title": null}}
          }
        },
        {
          "data": {"values": [
            {"d": "2026-06-19", "v": 503.5, "t": "503.5k", "k": "max"},
            {"d": "2023-02-10", "v": 162.8, "t": "162.8k", "k": "min"},
            {"d": "2026-09-04", "v": 375.6, "t": "375.6k", "k": "last"}
          ]},
          "encoding": {
            "x": {"field": "d", "type": "temporal"},
            "y": {"field": "v", "type": "quantitative", "title": "Open Interest (contracts)"}
          },
          "layer": [
            {"transform": [{"filter": "datum.k == 'max'"}], "mark": {"type": "point", "shape": "triangle-up", "filled": true, "size": 110, "color": "#333333", "opacity": 1}},
            {"transform": [{"filter": "datum.k == 'min'"}], "mark": {"type": "point", "shape": "triangle-down", "filled": true, "size": 110, "color": "#333333", "opacity": 1}},
            {"transform": [{"filter": "datum.k == 'last'"}], "mark": {"type": "point", "shape": "circle", "filled": false, "size": 85, "strokeWidth": 2, "color": "#333333", "opacity": 1}},
            {"transform": [{"filter": "datum.k == 'max'"}], "mark": {"type": "text", "align": "left", "baseline": "middle", "dx": 7, "dy": -16, "fontSize": 16, "color": "#555555"}, "encoding": {"text": {"field": "t"}}},
            {"transform": [{"filter": "datum.k == 'last'"}], "mark": {"type": "text", "align": "left", "baseline": "middle", "dx": 11, "dy": -16, "fontSize": 16, "color": "#555555"}, "encoding": {"text": {"field": "t"}}},
            {"transform": [{"filter": "datum.k == 'min'"}], "mark": {"type": "text", "align": "left", "baseline": "middle", "dx": 10, "dy": 21, "fontSize": 16, "color": "#555555"}, "encoding": {"text": {"field": "t"}}}
          ]
        }
      ]
    }
  ]
}
